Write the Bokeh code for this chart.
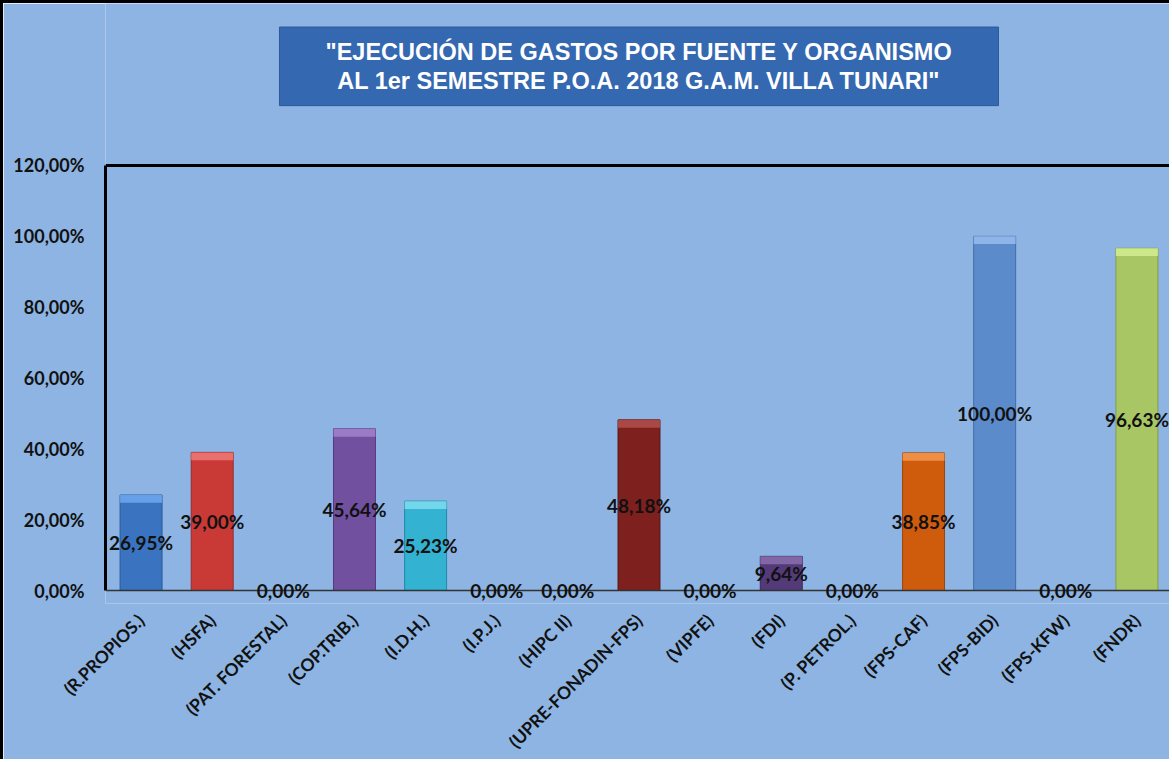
from bokeh.plotting import figure
from bokeh.models import Range1d, FixedTicker, ColumnDataSource, Span, LabelSet, Label
from bokeh.core.properties import value
from bokeh.embed import file_html
from bokeh.resources import INLINE
import math

categories = ["(R.PROPIOS.)", "(HSFA)", "(PAT. FORESTAL)", "(COP.TRIB.)", "(I.D.H.)",
              "(I.P.J.)", "(HIPC II)", "(UPRE-FONADIN-FPS)", "(VIPFE)", "(FDI)",
              "(P. PETROL.)", "(FPS-CAF)", "(FPS-BID)", "(FPS-KFW)", "(FNDR)"]
values = [26.95, 39.00, 0.00, 45.64, 25.23, 0.00, 0.00, 48.18, 0.00, 9.64, 0.00,
          38.85, 100.00, 0.00, 96.63]
colors = ["#3A74C0", "#C93A37", "#9BBB59", "#7250A0", "#33B2D1", "#F79646", "#4F81BD",
          "#7E201D", "#8064A2", "#553A7A", "#4BACC6", "#CF5C0C", "#5B8BCB", "#C0504D", "#A8C764"]
highlights = ["#6FA8EE", "#EE7A76", "#C5DE8E", "#A283CC", "#7FDDF0", "#FBC08E", "#8DB0E0",
              "#B0504C", "#AC97C8", "#8A70AE", "#8AD3E6", "#F59850", "#96BCEE", "#E08A87", "#D3EC92"]
edges = ["#2A5A99", "#9C2A28", "#76923C", "#56397E", "#2289A3", "#C77530", "#3A6396",
         "#5C1513", "#604A7B", "#3D2858", "#31859C", "#9E4508", "#426DA6", "#943634", "#849E47"]
y_ticks = [0, 20, 40, 60, 80, 100, 120]
title_text = ('"EJECUCIÓN DE GASTOS POR FUENTE Y ORGANISMO\n'
              'AL 1er SEMESTRE P.O.A. 2018 G.A.M. VILLA TUNARI"')

def pct(v):
    return f"{v:.2f}".replace(".", ",") + "%"

labels = [pct(v) for v in values]
label_y = [v / 2 for v in values]
bevel_bottom = [max(v - 2.2, 0) for v in values]

bg = "#8DB4E2"

p = figure(x_range=categories, y_range=Range1d(-3.67, 165.74), width=1169, height=759,
           output_backend="svg", toolbar_location=None,
           background_fill_color=bg, border_fill_color=bg,
           min_border_left=102, min_border_right=0, min_border_top=0,
           min_border_bottom=150)
p.styles = {"border-left": "3px solid black", "border-top": "3px solid black"}

p.outline_line_color = None
p.grid.grid_line_color = None

src = ColumnDataSource(dict(cat=categories, val=values, col=colors, hi=highlights,
                            edge=edges, lab=labels, ly=label_y, bb=bevel_bottom))
p.vbar(x="cat", top="val", bottom=0, width=0.59, source=src, fill_color="col",
       line_color="edge", line_width=1)
p.vbar(x="cat", top="val", bottom="bb", width=0.59, source=src, fill_color="hi",
       line_color=None, fill_alpha=0.85)

# plot-area top and zero lines
p.add_layout(Span(location=120, dimension="width", line_color="black", line_width=3))
p.add_layout(Span(location=0, dimension="width", line_color="#333333", line_width=1.5))

p.add_layout(LabelSet(x="cat", y="ly", text="lab", source=src, text_align="center",
                      text_baseline="middle", text_font=value("Lato"),
                      text_font_style="bold", text_font_size="19px", text_color="#111111"))

# title box
p.add_layout(Label(x=len(categories) / 2, y=148, text=title_text, text_align="center",
                   text_baseline="middle", text_color="white",
                   text_font="Liberation Sans", text_font_style="bold",
                   text_font_size="23.5px", text_line_height=1.1,
                   background_fill_color="#3468B0", border_line_color="#2C5A98",
                   padding=dict(left=46, right=46, top=12, bottom=12)))

p.yaxis.ticker = FixedTicker(ticks=y_ticks)
p.yaxis.bounds = (0, 120)
p.yaxis.major_label_overrides = {t: pct(t) for t in y_ticks}
p.yaxis.major_tick_line_color = None
p.yaxis.minor_tick_line_color = None
p.yaxis.axis_line_color = "black"
p.yaxis.axis_line_width = 3
p.yaxis.major_label_standoff = 15
p.yaxis.major_label_text_font = "Lato"
p.yaxis.major_label_text_font_style = "bold"
p.yaxis.major_label_text_font_size = "18px"
p.yaxis.major_label_text_color = "#111111"

p.xaxis.axis_line_color = None
p.xaxis.major_tick_line_color = None
p.xaxis.major_label_orientation = math.pi / 4
p.xaxis.major_label_standoff = 8
p.xaxis.major_label_text_font = "Lato"
p.xaxis.major_label_text_font_style = "bold"
p.xaxis.major_label_text_font_size = "17.5px"
p.xaxis.major_label_text_color = "#111111"

open("out.html", "w").write(file_html(p, INLINE))
